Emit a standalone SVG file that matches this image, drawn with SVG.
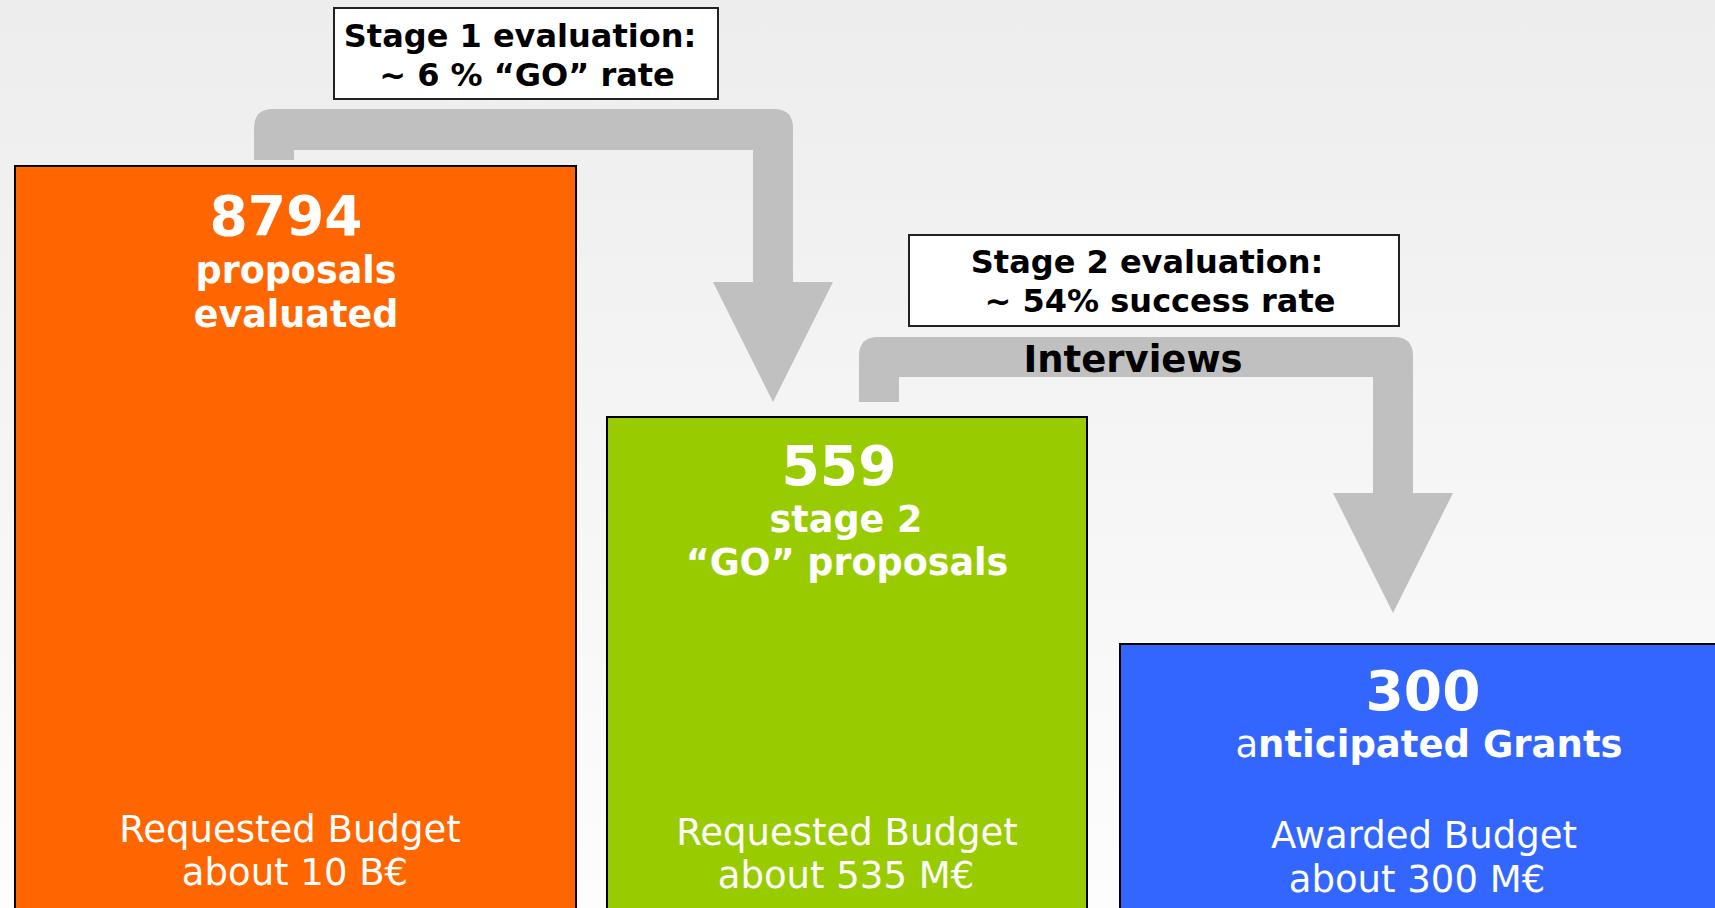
<svg xmlns="http://www.w3.org/2000/svg" width="1715" height="908" viewBox="0 0 1715 908">
<defs>
<linearGradient id="bg" x1="0" y1="0" x2="0" y2="1">
<stop offset="0" stop-color="#EDEDED"/>
<stop offset="1" stop-color="#FDFDFD"/>
</linearGradient>
</defs>
<style>
.t{font-family:"DejaVu Sans",Verdana,sans-serif;text-anchor:middle}
.b{font-weight:bold}
.w{fill:#FFFFFF}
.k{fill:#000000}
.num{font-size:55px}
.sub{font-size:36.5px}
.bud{font-size:37px}
.lbl{font-size:32px}
.arrow{fill:#C0C0C0}
.card{stroke:#000000;stroke-width:2}
.note{fill:#FFFFFF;stroke:#222222;stroke-width:2}
</style>
<rect x="0" y="0" width="1715" height="908" fill="url(#bg)"/>
<g id="connectors">
<path class="arrow" d="M254,160 L254,128 Q254,109 273,109 L774,109 Q793,109 793,128 L793,282 L833,282 L773,402 L713,282 L753,282 L753,150 L294,150 L294,160 Z"/>
<path class="arrow" d="M859,402 L859,356 Q859,337 878,337 L1394,337 Q1413,337 1413,356 L1413,493 L1453,493 L1393,613 L1333,493 L1373,493 L1373,377 L899,377 L899,402 Z"/>
<text class="t b k" x="1133" y="372" style="font-size:37px">Interviews</text>
</g>
<g id="stage1-label">
<rect class="note" x="334" y="8" width="384" height="91"/>
<text class="t b k lbl" x="520" y="47">Stage 1 evaluation:</text>
<text class="t b k lbl" x="527" y="86">~ 6 % “GO” rate</text>
</g>
<g id="stage2-label">
<rect class="note" x="909" y="235" width="490" height="91"/>
<text class="t b k lbl" x="1147" y="273">Stage 2 evaluation:</text>
<text class="t b k lbl" x="1160" y="312">~ 54% success rate</text>
</g>
<g id="node-evaluated">
<rect class="card" x="15" y="166" width="561" height="760" fill="#FF6600"/>
<text class="t b w num" x="286" y="235">8794</text>
<text class="t b w sub" x="296" y="283">proposals</text>
<text class="t b w sub" x="296" y="327">evaluated</text>
<text class="t w bud" x="290" y="842">Requested Budget</text>
<text class="t w bud" x="295" y="885">about 10 B€</text>
</g>
<g id="node-stage2">
<rect class="card" x="607" y="417" width="480" height="510" fill="#99CC00"/>
<text class="t b w num" x="839" y="485">559</text>
<text class="t b w sub" x="846" y="532">stage 2</text>
<text class="t b w sub" x="847" y="575">“GO” proposals</text>
<text class="t w bud" x="847" y="845">Requested Budget</text>
<text class="t w bud" x="846" y="888">about 535 M€</text>
</g>
<g id="node-grants">
<rect class="card" x="1120" y="644" width="620" height="290" fill="#3366FF"/>
<text class="t b w num" x="1423" y="710">300</text>
<text class="t w" x="1429" y="757" style="font-size:37px"><tspan>a</tspan><tspan font-weight="bold">nticipated Grants</tspan></text>
<text class="t w bud" x="1424" y="848">Awarded Budget</text>
<text class="t w bud" x="1417" y="892">about 300 M€</text>
</g>
</svg>
